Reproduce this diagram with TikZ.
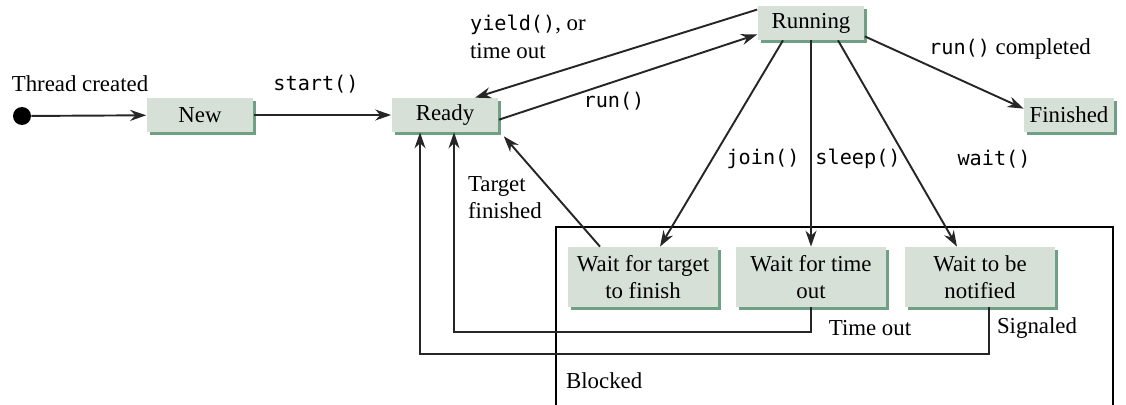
\documentclass[tikz,border=0pt]{standalone}
\usepackage{fontspec}
\setmainfont{Liberation Serif}
\setmonofont{DejaVu Sans Mono}
\usetikzlibrary{arrows.meta, shadows}

\definecolor{statefill}{RGB}{214,224,215}
\definecolor{stateshade}{RGB}{112,160,132}
\newcommand{\mcode}[1]{{\ttfamily\fontsize{11.5}{14}\selectfont #1}}

\begin{document}
\begin{tikzpicture}[
    x=0.02cm, y=-0.02cm,
    font=\fontsize{13}{15.5}\selectfont,
    state/.style={rectangle, fill=statefill, minimum width=2.14cm, minimum height=0.68cm, inner sep=2pt, align=center, drop shadow={shadow xshift=0.06cm, shadow yshift=-0.06cm, fill=stateshade, opacity=1}},
    waitbox/.style={state, minimum width=3.02cm, minimum height=1.2cm},
    arrow/.style={-{Stealth[length=3.2mm, width=2.2mm]}, line width=1.1pt, draw=black!85},
    lbl/.style={inner sep=1pt}
]
\useasboundingbox (0,0) rectangle (1126,405);

% blocked region
\draw[line width=0.6pt] (556,405) -- (556,227) -- (1113,227) -- (1113,405);
\node[lbl, anchor=west] (blocked) at (564,381) {Blocked};

\node[circle, fill=black, inner sep=0pt, minimum size=0.36cm] (start) at (22,116) {};
\node[state] (new) at (200,115) {New};
\node[state] (ready) at (445,115) {Ready};
\node[state] (running) at (811,23) {Running};
\node[state, minimum width=1.8cm] (finished) at (1069,115) {Finished};

\node[waitbox] (waittarget) at (643,277) {Wait for target\\to finish};
\node[waitbox] (waittime) at (811,277) {Wait for time\\out};
\node[waitbox] (waitnotify) at (980,277) {Wait to be\\notified};

\draw[arrow] (start) -- (new);
\draw[arrow] (new) -- (ready);
\draw[arrow] (running.166) -- (ready.30);
\draw[arrow] (ready.355) -- (running.192);
\draw[arrow] (running.-14) -- (finished.172);

\draw[arrow] ([xshift=-0.56cm]running.south) -- ([xshift=0.34cm]waittarget.north);
\draw[arrow] (running.south) -- (running.south |- waittime.north);
\draw[arrow] ([xshift=0.54cm]running.south) -- ([xshift=-0.46cm]waitnotify.north);

\draw[arrow] ([xshift=-0.86cm]waittarget.north) -- ([xshift=0.1cm, yshift=-0.08cm]ready.south east);
\draw[arrow] (waittime.south) -- ++(0,-0.5cm) -| ([xshift=0.18cm]ready.south);
\draw[arrow] ([xshift=0.18cm]waitnotify.south) -- ++(0,-0.94cm) -| ([xshift=-0.5cm]ready.south);

% labels
\node[lbl] (created) at (80,84) {Thread created};
\node[lbl] (startlbl) at (316,84) {\mcode{start()}};
\node[lbl, align=left, anchor=west] (yieldlbl) at (468,37) {\mcode{yield()}, or\\time out};
\node[lbl] (runlbl) at (614,101) {\mcode{run()}};
\node[lbl] (completed) at (1010,49) {\mcode{run()} completed};
\node[lbl] (joinlbl) at (763,159) {\mcode{join()}};
\node[lbl] (sleeplbl) at (858,159) {\mcode{sleep()}};
\node[lbl] (waitlbl) at (994,159) {\mcode{wait()}};
\node[lbl, align=left, anchor=west] (targetlbl) at (466,198) {Target\\finished};
\node[lbl] (timeoutlbl) at (870,328) {Time out};
\node[lbl] (signaled) at (1037,328) {Signaled};

\end{tikzpicture}
\end{document}
